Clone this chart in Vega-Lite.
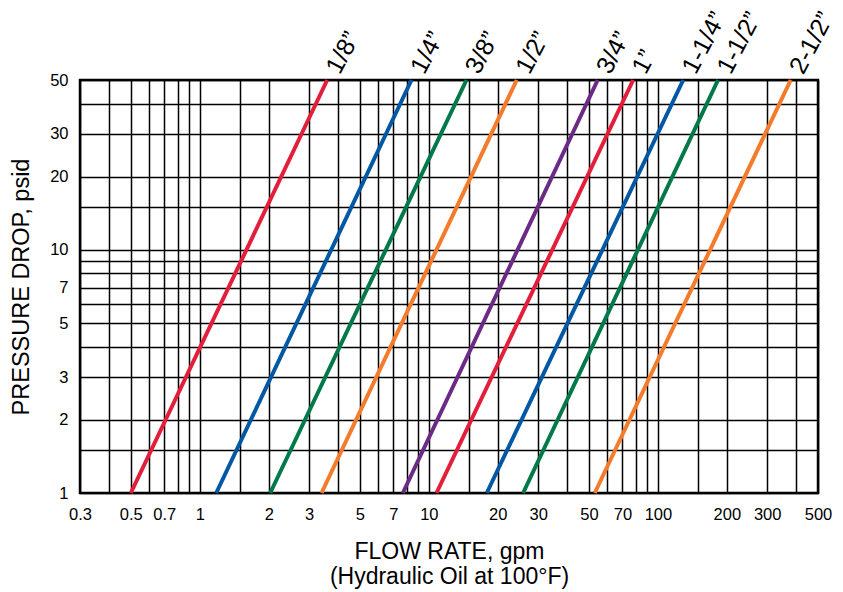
{
  "$schema": "https://vega.github.io/schema/vega-lite/v6.json",
  "autosize": "none",
  "width": 738,
  "height": 413,
  "padding": {"left": 80, "top": 80, "right": 25, "bottom": 99},
  "background": "white",
  "config": {
    "font": "Liberation Sans",
    "view": {"stroke": "black", "strokeWidth": 2.5}
  },
  "data": {
    "values": [
      {"size": "1/8”", "flow": 0.5, "dp": 1},
      {"size": "1/8”", "flow": 3.6, "dp": 50},
      {"size": "1/4”", "flow": 1.18, "dp": 1},
      {"size": "1/4”", "flow": 8.4, "dp": 50},
      {"size": "3/8”", "flow": 2.03, "dp": 1},
      {"size": "3/8”", "flow": 14.6, "dp": 50},
      {"size": "1/2”", "flow": 3.4, "dp": 1},
      {"size": "1/2”", "flow": 24.2, "dp": 50},
      {"size": "3/4”", "flow": 7.7, "dp": 1},
      {"size": "3/4”", "flow": 54.6, "dp": 50},
      {"size": "1”", "flow": 10.8, "dp": 1},
      {"size": "1”", "flow": 78, "dp": 50},
      {"size": "1-1/4”", "flow": 17.9, "dp": 1},
      {"size": "1-1/4”", "flow": 129, "dp": 50},
      {"size": "1-1/2”", "flow": 25.8, "dp": 1},
      {"size": "1-1/2”", "flow": 183, "dp": 50},
      {"size": "2-1/2”", "flow": 53, "dp": 1},
      {"size": "2-1/2”", "flow": 380, "dp": 50}
    ]
  },
  "encoding": {
    "x": {
      "field": "flow", "type": "quantitative",
      "scale": {"type": "log", "domain": [0.3, 500], "nice": false},
      "axis": {
        "values": [0.3,0.4,0.5,0.6,0.7,0.8,0.9,1,1.5,2,3,4,5,6,7,8,9,10,15,20,30,40,50,60,70,80,90,100,150,200,300,400,500],
        "labelExpr": "indexof([0.3,0.5,0.7,1,2,3,5,7,10,20,30,50,70,100,200,300,500], datum.value) >= 0 ? format(datum.value, '~g') : ''",
        "grid": true, "gridColor": "black", "gridWidth": 1.5, "gridOpacity": 1,
        "ticks": false, "domain": false,
        "labelFontSize": 16.5, "labelColor": "black", "labelPadding": 13, "labelOverlap": false, "labelFlush": false,
        "title": ["FLOW RATE, gpm", "(Hydraulic Oil at 100°F)"],
        "titleFontSize": 23, "titleFontWeight": "normal", "titleColor": "black", "titlePadding": 18, "titleLineHeight": 25
      }
    },
    "y": {
      "field": "dp", "type": "quantitative",
      "scale": {"type": "log", "domain": [1, 50], "nice": false},
      "axis": {
        "values": [1,1.5,2,3,4,5,6,7,8,9,10,15,20,30,40,50],
        "labelExpr": "indexof([1,2,3,5,7,10,20,30,50], datum.value) >= 0 ? format(datum.value, '~g') : ''",
        "grid": true, "gridColor": "black", "gridWidth": 1.5, "gridOpacity": 1,
        "ticks": false, "domain": false,
        "labelFontSize": 16.5, "labelColor": "black", "labelPadding": 12, "labelOverlap": false, "labelFlush": false,
        "title": "PRESSURE DROP, psid",
        "titleFontSize": 23.5, "titleFontWeight": "normal", "titleColor": "black", "titlePadding": 16
      }
    },
    "color": {
      "field": "size", "type": "nominal",
      "scale": {
        "domain": ["1/8”", "1/4”", "3/8”", "1/2”", "3/4”", "1”", "1-1/4”", "1-1/2”", "2-1/2”"],
        "range": ["#E31E3A", "#0057A4", "#00794A", "#F47B2A", "#6A2A85", "#E31E3A", "#0057A4", "#00794A", "#F47B2A"]
      },
      "legend": null
    }
  },
  "layer": [
    {
      "mark": {"type": "line", "strokeWidth": 4, "strokeCap": "butt", "clip": false}
    },
    {
      "transform": [{"filter": "datum.dp == 50"}],
      "mark": {"type": "text", "angle": -62, "align": "left", "baseline": "middle", "dx": 10, "dy": 1, "fontSize": 25, "color": "black"},
      "encoding": {
        "text": {"field": "size"},
        "color": {"value": "black"}
      }
    }
  ]
}
